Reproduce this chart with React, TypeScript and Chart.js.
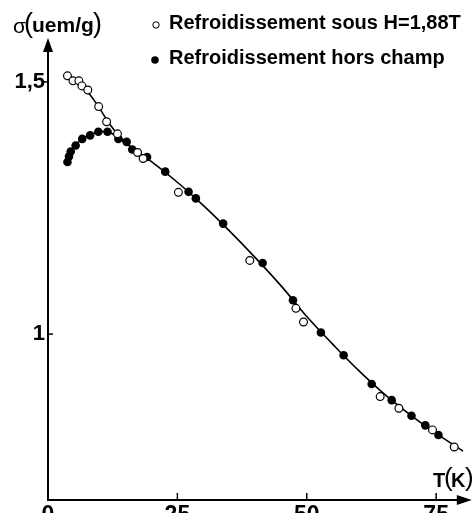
import React, { useEffect, useRef } from "react";
import { Chart, registerables } from "chart.js";

Chart.register(...registerables);

// ---- data (T in K, sigma in uem/g) ----
const xTickValues = [0, 25, 50, 75];
const yTickValues = [1, 1.5];
const yTickLabels = ["1", "1,5"];

const fieldCooledT = [3.76, 4.83, 5.97, 6.55, 7.69, 9.79, 11.32, 13.42, 17.31, 18.38, 25.19, 38.99, 47.9, 49.37, 64.18, 67.8, 74.29, 78.49];
const fieldCooledSigma = [1.512, 1.502, 1.502, 1.492, 1.484, 1.451, 1.421, 1.397, 1.36, 1.348, 1.281, 1.146, 1.051, 1.024, 0.876, 0.853, 0.81, 0.776];

const zeroFieldT = [3.76, 4.06, 4.39, 5.34, 6.62, 8.15, 9.73, 11.5, 13.6, 15.2, 16.28, 19.14, 22.65, 27.16, 28.57, 33.84, 41.47, 47.33, 52.73, 57.12, 62.54, 66.41, 70.23, 72.9, 75.44];
const zeroFieldSigma = [1.341, 1.352, 1.362, 1.374, 1.387, 1.394, 1.401, 1.401, 1.387, 1.381, 1.366, 1.351, 1.322, 1.282, 1.269, 1.219, 1.141, 1.067, 1.003, 0.958, 0.901, 0.869, 0.838, 0.819, 0.8];

const mainCurveT = [3.8, 6, 8, 10, 12, 14, 16, 20, 25, 30, 35, 40, 45, 50, 55, 60, 65, 70, 75, 80.2];
const mainCurveSigma = [1.51, 1.497, 1.476, 1.447, 1.415, 1.39, 1.371, 1.342, 1.301, 1.255, 1.205, 1.152, 1.096, 1.035, 0.98, 0.928, 0.881, 0.84, 0.803, 0.768];

const branchCurveT = [3.7, 4.3, 5.3, 6.6, 8.2, 9.8, 11.3, 12.6, 13.6, 15.2, 16];
const branchCurveSigma = [1.338, 1.358, 1.374, 1.387, 1.395, 1.401, 1.402, 1.396, 1.388, 1.378, 1.371];

const legendLabels = ["Refroidissement sous H=1,88T", "Refroidissement hors champ"];
const yTitleParts = ["σ", "(", "uem/g", ")"];
const xTitleParts = ["T", "(", "K", ")"];

const FONT = '"Liberation Sans", Arial, Helvetica, sans-serif';

const toPoints = (xs: number[], ys: number[]) => xs.map((x, i) => ({ x, y: ys[i] }));

const decorPlugin = {
  id: "decor",
  afterDraw(chart: any) {
    const ctx: CanvasRenderingContext2D = chart.ctx;
    const xs = chart.scales.x;
    const ys = chart.scales.y;
    const x0 = xs.getPixelForValue(0);
    const xR = xs.getPixelForValue(xs.max);
    const yB = ys.getPixelForValue(ys.min);
    const yT = ys.getPixelForValue(ys.max);
    ctx.save();
    ctx.strokeStyle = "#000";
    ctx.fillStyle = "#000";
    ctx.lineWidth = 2;
    // axes
    ctx.beginPath();
    ctx.moveTo(x0, yB + 1);
    ctx.lineTo(x0, yT + 10);
    ctx.stroke();
    ctx.beginPath();
    ctx.moveTo(x0 - 1, yB);
    ctx.lineTo(xR - 10, yB);
    ctx.stroke();
    // arrows
    ctx.beginPath();
    ctx.moveTo(x0, yT);
    ctx.lineTo(x0 - 5, yT + 14);
    ctx.lineTo(x0 + 5, yT + 14);
    ctx.closePath();
    ctx.fill();
    ctx.beginPath();
    ctx.moveTo(xR + 2, yB);
    ctx.lineTo(xR - 13, yB - 5);
    ctx.lineTo(xR - 13, yB + 5);
    ctx.closePath();
    ctx.fill();
    // tick marks
    ctx.lineWidth = 1.5;
    xTickValues.forEach((v) => {
      if (v === 0) return;
      const px = xs.getPixelForValue(v);
      ctx.beginPath();
      ctx.moveTo(px, yB);
      ctx.lineTo(px, yB - 7);
      ctx.stroke();
    });
    yTickValues.forEach((v) => {
      const py = ys.getPixelForValue(v);
      ctx.beginPath();
      if (v === 1.5) {
        ctx.moveTo(x0 - 6, py);
        ctx.lineTo(x0, py);
      } else {
        ctx.moveTo(x0, py);
        ctx.lineTo(x0 + 5, py);
      }
      ctx.stroke();
    });
    // y title
    ctx.textAlign = "left";
    ctx.textBaseline = "alphabetic";
    ctx.font = `21px ${FONT}`;
    ctx.fillText(yTitleParts[0], 13, 33);
    ctx.font = `27px ${FONT}`;
    ctx.fillText(yTitleParts[1], 24, 32);
    ctx.font = `bold 21px ${FONT}`;
    ctx.fillText(yTitleParts[2], 32, 32);
    ctx.font = `27px ${FONT}`;
    ctx.fillText(yTitleParts[3], 93, 32);
    // x title
    ctx.font = `bold 20px ${FONT}`;
    ctx.fillText(xTitleParts[0], 433, 487);
    ctx.font = `26px ${FONT}`;
    ctx.fillText(xTitleParts[1], 444, 486);
    ctx.font = `bold 20px ${FONT}`;
    ctx.fillText(xTitleParts[2], 451, 487);
    ctx.font = `26px ${FONT}`;
    ctx.fillText(xTitleParts[3], 465, 486);
    // legend
    const baselines = [29, 64];
    ctx.font = `bold 20px ${FONT}`;
    legendLabels.forEach((label, i) => {
      ctx.fillText(label, 169, baselines[i]);
    });
    ctx.lineWidth = 1;
    ctx.beginPath();
    ctx.arc(156, baselines[0] - 4, 3.2, 0, Math.PI * 2);
    ctx.stroke();
    ctx.beginPath();
    ctx.arc(155, baselines[1] - 4, 3.8, 0, Math.PI * 2);
    ctx.fill();
    ctx.restore();
  },
};

export default function App() {
  const ref = useRef<HTMLCanvasElement | null>(null);
  useEffect(() => {
    if (!ref.current) return;
    const chart = new Chart(ref.current, {
      type: "scatter",
      data: {
        datasets: [
          {
            label: legendLabels[0],
            data: toPoints(fieldCooledT, fieldCooledSigma),
            pointRadius: 3.9,
            pointBackgroundColor: "#fff",
            pointBorderColor: "#000",
            pointBorderWidth: 1.2,
            showLine: false,
            order: 0,
          },
          {
            label: legendLabels[1],
            data: toPoints(zeroFieldT, zeroFieldSigma),
            pointRadius: 4.3,
            pointBackgroundColor: "#000",
            pointBorderColor: "#000",
            pointBorderWidth: 0,
            showLine: false,
            order: 0,
          },
          {
            label: "curve",
            data: toPoints(mainCurveT, mainCurveSigma),
            showLine: true,
            pointRadius: 0,
            borderColor: "#000",
            borderWidth: 1.6,
            tension: 0.4,
            order: 1,
          },
          {
            label: "branch",
            data: toPoints(branchCurveT, branchCurveSigma),
            showLine: true,
            pointRadius: 0,
            borderColor: "#000",
            borderWidth: 1.6,
            cubicInterpolationMode: "monotone",
            order: 1,
          },
        ],
      },
      options: {
        responsive: false,
        animation: false,
        devicePixelRatio: 1,
        layout: { padding: { top: 38, left: 0, right: 0, bottom: 0 } },
        plugins: { legend: { display: false }, tooltip: { enabled: false } },
        scales: {
          x: {
            type: "linear",
            min: 0,
            max: 81.5,
            grid: { display: false, drawTicks: false },
            border: { display: false },
            afterBuildTicks: (scale: any) => {
              scale.ticks = xTickValues.map((value) => ({ value }));
            },
            afterFit: (scale: any) => {
              scale.height = 35;
            },
            ticks: {
              color: "#000",
              padding: 2,
              maxRotation: 0,
              autoSkip: false,
              font: { family: FONT, size: 23, weight: "bold" },
              callback: (v: any) => String(v),
            },
          },
          y: {
            type: "linear",
            min: 0.671,
            max: 1.587,
            grid: { display: false, drawTicks: false },
            border: { display: false },
            afterBuildTicks: (scale: any) => {
              scale.ticks = yTickValues.map((value) => ({ value }));
            },
            afterFit: (scale: any) => {
              scale.width = 48;
            },
            ticks: {
              color: "#000",
              padding: 3,
              autoSkip: false,
              font: { family: FONT, size: 22, weight: "bold" },
              callback: (v: any) => {
                const i = yTickValues.indexOf(Number(v));
                return i >= 0 ? yTickLabels[i] : "";
              },
            },
          },
        },
      },
      plugins: [decorPlugin],
    } as any);
    return () => chart.destroy();
  }, []);
  return (
    <div style={{ position: "fixed", left: 0, top: 0, width: 475, height: 513, overflow: "hidden", background: "#fff" }}>
      <canvas ref={ref} width={475} height={535} style={{ display: "block" }} />
    </div>
  );
}
